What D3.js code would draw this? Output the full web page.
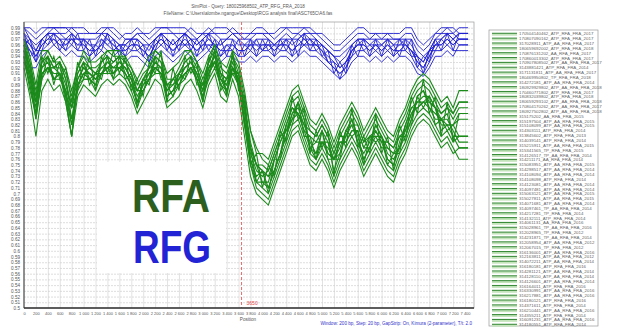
<!DOCTYPE html>
<html><head><meta charset="utf-8">
<script src="https://cdn.jsdelivr.net/npm/d3@7/dist/d3.min.js"></script>
<style>
html,body{margin:0;padding:0;background:#fff;}
svg{display:block;font-family:"Liberation Sans",Arial,sans-serif;}
</style></head>
<body>
<svg id="chart" width="624" height="327"></svg>
<script>
// ---------------- DATA ----------------
const titleLines = ["SimPlot - Query: 180025968502_ATP_RFG_FRA_2018",
  "FileName: C:\\Users\\alombe.ngangue\\Desktop\\RCG analysis final\\ASC765C\\A6.fas"];
const footNote = "Window: 200 bp, Step: 20 bp, GapStrip: On, Kimura (2-parameter), T/t: 2.0";
const xLabel = "Position";
const breakpoint = 3650;
const endPos = 7450;
const xTicks = [0,200,400,600,800,1000,1200,1400,1600,1800,2000,2200,2400,2600,2800,3000,3200,3400,3600,3800,4000,4200,4400,4600,4800,5000,5200,5400,5600,5800,6000,6200,6400,6600,6800,7000,7200,7400];
const yTicks = [0.5,0.51,0.52,0.53,0.54,0.55,0.56,0.57,0.58,0.59,0.6,0.61,0.62,0.63,0.64,0.65,0.66,0.67,0.68,0.69,0.7,0.71,0.72,0.73,0.74,0.75,0.76,0.77,0.78,0.79,0.8,0.81,0.82,0.83,0.84,0.85,0.86,0.87,0.88,0.89,0.9,0.91,0.92,0.93,0.94,0.95,0.96,0.97,0.98,0.99];
const positions = [0,100,200,300,400,500,600,700,800,900,1000,1100,1200,1300,1400,1500,1600,1700,1800,1900,2000,2100,2200,2300,2400,2500,2600,2700,2800,2900,3000,3100,3200,3300,3400,3500,3600,3700,3800,3900,4000,4100,4200,4300,4400,4500,4600,4700,4800,4900,5000,5100,5200,5300,5400,5500,5600,5700,5800,5900,6000,6100,6200,6300,6400,6500,6600,6700,6800,6900,7000,7100,7200,7300];

// similarity (%) of the query vs RFG sequences (blue)
const rfgSeries = [
 [99,98,97,98,99,99,98,98,99,98, 98,98,98,99,99,98,97,98,98,99, 98,97,98,99,99,98,97,98,99,98, 98,99,98,98,98,99,98,98,98,99, 99,98,97,98,99,98,98,99,99,98, 97,96,95,95,96,97,98,98,97,98, 98,98,97,97,98,98,96,95,96,98, 99,99,98,99],
 [95,92,92,94,95,96,95,94,95,94, 94,93,94,95,94,93,94,93,94,94, 93,92,94,95,94,93,94,95,94,93, 94,95,94,93,94,94,93,93,94,93, 94,94,93,94,94,93,94,95,94,94, 93,92,91,90,91,93,94,94,93,94, 93,94,93,94,94,93,91,90.5,92,94, 94,95,94,96],
 [97,96,95,97,98,98,97,96,97,97, 96,95,96,97,96,95,96,95,96,96, 95,94,96,97,96,95,96,97,96,95, 96,97,96,95,96,96,95,95,96,95, 96,96,95,96,96,95,96,97,96,96, 95,94,93,92,93,95,96,96,95,96, 95,96,95,96,96,95,93,92,94,96, 96,97,96,97],
 [98,96,94,96,97,98,98,97,97,96, 97,96,95,96,98,97,96,96,97,97, 96,95,97,98,97,96,97,98,97,96, 97,98,97,96,97,97,96,96,97,96, 95,96,96,97,97,96,97,98,97,97, 96,95,94,93,94,96,97,97,96,97, 96,97,96,97,97,96,94,93,95,97, 97,98,97,98],
 [96,95,93,95,96,97,96,95,96,95, 95,94,95,96,95,94,95,94,95,95, 94,93,95,96,95,94,95,96,95,94, 95,96,95,94,95,95,94,94,95,94, 95,95,94,95,95,94,95,96,95,95, 94,93,92,91,92,94,95,95,94,95, 94,95,94,95,95,94,92,91,93,95, 95,96,95,95],
 [98,97,96,97,98,99,99,99,98,97, 97,97,97,98,98,97,96,96,97,97, 96,96,97,98,98,98,98,98,97,96, 97,98,98,97,97,98,98,97,97,98, 98,97,96,97,98,97,97,98,98,97, 96,95,94,94,95,96,97,97,97,97, 97,97,96,96,97,97,95,94,95,97, 98,98,97,98],
 [97,95,94,96,97,97,96,96,97,96, 96,95,95,96,97,96,95,95,96,96, 95,94,96,97,96,95,96,96,96,95, 96,96,96,95,95,96,95,95,96,96, 96,96,95,96,96,95,96,96,96,96, 95,93,92,91,92,95,96,96,95,96, 95,96,95,95,96,95,93,92,94,96, 96,97,96,97],
 [99,97,95,97,98,98,97,97,98,97, 97,96,96,98,97,96,95,97,97,98, 97,96,97,98,97,96,97,98,97,97, 98,97,96,96,97,98,97,96,96,97, 97,97,96,96,97,97,98,97,97,96, 96,95,94,92,93,95,96,97,96,96, 96,97,97,97,96,95,94,93,95,96, 97,98,98,97],
 [96,97,93,97,96,98,95,97,96,98, 95,97,94,97,96,97,94,96,95,97, 94,96,95,98,95,97,95,98,95,97, 95,98,95,97,94,97,94,96,95,97, 95,97,94,97,95,97,94,98,95,97, 94,95,91,93,91,96,94,97,94,97, 94,97,94,97,95,97,92,94,93,97, 95,98,95,98],
 [98,94,95,95,98,96,97,95,98,95, 97,94,96,95,98,95,96,94,97,95, 96,93,97,96,97,94,97,96,97,94, 97,95,97,94,96,95,97,94,97,94, 97,95,96,95,97,94,97,96,97,95, 96,93,93,90,93,94,97,95,96,95, 96,95,96,94,97,94,94,91,95,95, 97,96,97,96],
 [99,99,98,99,99,99,99,99,99,99, 99,98,98,98,99,99,98,97,97,98, 98,98,99,99,99,99,99,99,98,97, 98,98,99,99,99,98,97,97,98,98, 98,98,98,99,99,99,99,99,98,98, 98,97,96,96,97,98,99,99,98,98, 97,98,98,98,99,99,97,96,97,98, 98,99,99,98]
];

// similarity (%) of the query vs RFA sequences (green)
const rfaSeries = [
 [97,94,89,95,95,93,94,92,88,92, 95,93,93,94,95,95,95,93,92,90, 92,94,95,94,91,92,93,95,95,93, 91,94,96,93,92,95,93,88,81,77, 77,76,79,82,85,88,89,86,83,82, 84,82,79,82,84,86,84,81,83,85, 83,81,80,83,85,88,90,91,90,88, 86,87,85,88],
 [92,87,80,88,90,88,89,86,80,87, 89,88,87,89,90,89,90,89,87,84, 86,88,90,89,85,86,87,89,90,88, 85,89,91,87,86,90,87,80,73,70, 69,68,71,74,77,80,81,78,75,74, 76,74,71,74,76,78,76,73,75,77, 75,73,72,75,77,80,82,83,82,80, 78,79,77,78],
 [96,92,87,93,94,90,91,88,86,91, 93,90,89,93,94,91,92,93,91,88, 88,90,94,93,87,88,91,93,94,90, 87,91,95,91,88,92,91,86,79,75, 72,71,74,77,80,83,86,83,78,77, 81,79,74,77,81,83,79,76,78,82, 80,76,75,78,82,85,85,86,87,85, 81,82,82,84],
 [94,89,83,91,92,92,91,87,80,89, 91,92,91,91,92,93,94,91,89,86, 90,92,92,91,89,90,89,91,92,92, 89,93,93,89,90,94,89,83,76,73, 74,73,76,79,82,85,84,81,80,79, 79,77,76,79,79,81,81,78,80,80, 78,78,77,80,80,83,87,88,85,83, 83,84,80,80],
 [95,91,86,91,92,92,93,90,83,89, 91,90,91,92,92,92,92,91,89,88, 90,90,92,91,88,90,90,91,92,90, 89,91,93,91,90,92,90,85,78,75, 74,73,74,77,82,85,84,81,78,79, 81,77,76,79,79,81,81,78,78,80, 80,78,77,78,80,83,87,88,86,85, 83,82,82,83],
 [96,92,86,93,94,92,93,90,85,91, 93,92,91,93,94,93,94,93,91,88, 90,92,94,93,89,90,91,93,94,92, 89,93,95,91,90,94,91,85,78,75, 75,74,77,80,83,86,87,84,81,80, 82,80,77,80,82,84,82,79,81,83, 81,79,78,81,83,86,88,89,88,86, 84,85,83,85],
 [93,89,84,90,92,90,90,88,82,88, 90,90,89,91,91,91,92,91,89,86, 88,90,91,91,87,88,89,90,92,90, 87,90,92,89,88,91,89,82,75,72, 71,70,73,76,79,82,83,80,77,76, 78,76,73,76,78,80,78,75,77,79, 77,75,74,77,79,82,84,85,84,82, 80,81,79,80],
 [94,90,86,92,93,90,91,86,80,90, 92,91,90,91,93,92,92,92,90,86, 89,90,93,92,87,88,90,92,93,91, 88,92,94,90,88,92,89,83,76,72, 72,72,76,79,81,83,84,82,79,77, 79,78,76,77,80,83,80,76,78,81, 79,76,75,79,82,85,86,86,85,84, 83,83,81,79],
 [96,91,85,92,94,92,92,89,85,90, 92,91,90,92,93,92,93,92,90,87, 89,91,93,92,88,89,90,92,93,91, 88,92,94,90,89,93,90,84,77,74, 73,74,77,80,81,84,85,82,81,80, 82,80,77,80,80,82,82,79,80,81, 79,79,78,80,81,84,85,86,86,85, 84,85,84,86],
 [95,90,84,91,92,91,91,88,83,89, 91,91,90,91,92,91,93,92,90,88, 90,91,92,92,89,89,91,92,93,91, 88,92,93,90,89,92,90,85,78,75, 74,71,74,77,80,84,86,83,78,76, 79,79,76,78,81,82,79,77,79,82, 80,77,76,78,81,84,86,87,87,85, 82,82,80,78],
 [96,93,87,94,91,94,90,92,86,93, 90,94,88,94,91,95,91,94,88,90, 87,93,91,95,86,92,88,94,91,93, 86,94,92,93,87,95,88,87,75,77, 71,75,73,81,79,87,83,85,77,81, 78,81,73,81,78,85,78,80,77,84, 77,80,74,82,79,87,84,90,84,87, 80,86,79,84],
 [93,91,83,90,94,89,93,87,85,88, 93,89,91,90,94,90,94,90,91,85, 90,89,94,90,89,87,91,90,94,89, 89,90,95,88,90,91,91,82,78,72, 74,70,76,76,82,82,86,80,80,76, 81,76,76,76,81,80,81,75,80,79, 80,75,77,77,82,82,87,85,87,82, 83,81,82,80],
 [97,93,88,93,95,93,93,91,87,92, 94,92,92,93,95,94,94,94,92,89, 91,92,95,94,90,90,92,94,95,93, 90,93,96,92,91,94,92,87,81,78, 76,75,78,81,84,87,88,85,82,81, 83,81,78,81,83,85,83,80,82,84, 82,80,79,82,84,87,89,90,89,87, 85,86,84,86],
 [94,88,84,91,92,90,91,87,82,89, 90,90,88,91,92,90,91,90,88,85, 88,90,92,91,86,87,89,91,92,90, 86,91,93,89,87,92,89,82,75,71, 70,69,72,75,78,81,82,79,76,75, 77,75,72,75,77,79,77,74,76,78, 76,74,73,76,78,81,83,84,83,81, 79,80,78,76]
];

const legendNames = [
 "170504140462_ATP_RFA_FRA_2017","170807090162_ATP_RFA_FRA_2017","317028911_ATP_AA_RFA_FRA_2017",
 "180659692002_ATP_RFA_FRA_2018","170876131202_AA_RFA_FRA_2017","170860013302_ATP_RFA_FRA_2017",
 "170907808502_ATP_AA_RFA_FRA_2017","3143881421_ATP_RFA_FRA_2014","3171131811_ATP_AA_RFA_FRA_2017",
 "180469950802_TP_RFA_FRA_2018","314272181_ATP_AA_RFA_FRA_2014","180929929802_ATP_AA_RFA_FRA_2018",
 "170460771802_ATP_RFA_FRA_2017","180832039802_ATP_RFA_FRA_2018","180659293102_ATP_AA_RFA_FRA_2018",
 "170804170262_ATP_AA_RFA_FRA_2017","180927502802_ATP_AA_RFA_FRA_2018","315175202_AA_RFA_FRA_2015",
 "315197504_ATP_AA_RFA_FRA_2015","315108099_ATP_AA_RFA_FRA_2015","314303111_ATP_RFA_FRA_2014",
 "313845602_ATP_RFA_FRA_2013","314039141_ATP_RFA_FRA_2014","315215911_ATP_AA_RFA_FRA_2015",
 "315341565_TP_RFA_FRA_2015","314126517_TP_AA_RFA_FRA_2014","314211171_AA_RFA_FRA_2014",
 "315083951_ATP_AA_RFA_FRA_2015","314298517_ATP_AA_RFA_FRA_2014","314108094_ATP_AA_RFA_FRA_2014",
 "314108098_ATP_RFA_FRA_2014","314123081_ATP_AA_RFA_FRA_2014","314097481_ATP_AA_RFA_FRA_2014",
 "315063121_ATP_AA_RFA_FRA_2015","315027811_ATP_AA_RFA_FRA_2015","314071681_ATP_AA_RFA_FRA_2014",
 "314097461_TP_AA_RFA_FRA_2014","314217281_TP_RFA_FRA_2014","314132111_ATP_RFA_FRA_2014",
 "314061131_AA_RFA_FRA_2016","315028961_TP_AA_RFA_FRA_2016","312028965_TP_RFA_FRA_2012",
 "314231871_TP_AA_RFA_FRA_2014","312058954_ATP_AA_RFA_FRA_2012","312067015_TP_RFA_FRA_2012",
 "316136001_ATP_AA_RFA_FRA_2016","312163811_ATP_AA_RFA_FRA_2012","314072211_ATP_AA_RFA_FRA_2014",
 "316180181_ATP_RFA_FRA_2016","314281121_ATP_AA_RFA_FRA_2014","314128110_ATP_AA_RFA_FRA_2014",
 "314126601_ATP_AA_RFA_FRA_2014","316164011_ATP_RFA_FRA_2016","316330991_ATP_AA_RFA_FRA_2016",
 "316217881_ATP_AA_RFA_FRA_2016","316180121_ATP_RFA_FRA_2016","314371611_ATP_RFA_FRA_2014",
 "316210441_ATP_AA_RFA_FRA_2016","314355211_ATP_RFA_FRA_2014","316091231_ATP_AA_RFA_FRA_2016",
 "314180551_ATP_RFA_FRA_2014"
];
const groupLabels = ["RFA","RFG"];

// ---------------- DRAW ----------------
const svg = d3.select("#chart");
const L = 24, R = 474, T = 22, B = 308;
const x = d3.scaleLinear().domain([0, 7550]).range([L, R]);
const y = d3.scaleLinear().domain([0.5, 1.0]).range([B, T]);
const BLUE = "#1f1fcf", GREEN = "#1b8a1b";

// title
svg.selectAll("text.title").data(titleLines).join("text")
  .attr("class","title").attr("x",248).attr("y",(d,i)=>8+i*7)
  .attr("text-anchor","middle").attr("font-size",4.6).attr("fill","#555").text(d=>d);

// grid
const gx = svg.append("g").attr("transform",`translate(0,${B})`)
  .call(d3.axisBottom(x).tickValues(xTicks.slice(1)).tickSize(-(B-T)).tickFormat(""));
gx.select(".domain").remove();
gx.selectAll("line").attr("stroke","#d6d6d6").attr("stroke-width",0.7);
const gy = svg.append("g").attr("transform",`translate(${L},0)`)
  .call(d3.axisLeft(y).tickValues(yTicks.slice(1)).tickSize(-(R-L)).tickFormat(""));
gy.select(".domain").remove();
gy.selectAll("line").attr("stroke","#d0d0d0").attr("stroke-width",0.7).attr("stroke-dasharray","2,1");

// white panel behind group labels
svg.append("rect").attr("x",97).attr("y",162).attr("width",129).attr("height",111).attr("fill","#fff");

// lines
const line = d3.line().x(d=>x(d[0])).y(d=>y(d[1]/100));
function pts(s){ const p = positions.map((pos,i)=>[pos,s[i]]); p.push([endPos, s[s.length-1]]); return p; }
svg.append("g").selectAll("path").data(rfgSeries).join("path")
  .attr("d",s=>line(pts(s))).attr("fill","none").attr("stroke",BLUE).attr("stroke-width",0.9);
svg.append("g").selectAll("path").data(rfaSeries).join("path")
  .attr("d",s=>line(pts(s))).attr("fill","none").attr("stroke",GREEN).attr("stroke-width",1.1);

// breakpoint
svg.append("line").attr("x1",x(breakpoint)).attr("x2",x(breakpoint)).attr("y1",T).attr("y2",B)
  .attr("stroke","#e04848").attr("stroke-width",0.8).attr("stroke-dasharray","3,2");
svg.append("text").attr("x",x(breakpoint)+5).attr("y",305).attr("font-size",5).attr("fill","#e04848").text(breakpoint);

// frame
svg.append("rect").attr("x",L).attr("y",T).attr("width",R-L).attr("height",B-T).attr("fill","none").attr("stroke","#999").attr("stroke-width",0.7);
svg.append("line").attr("x1",L).attr("x2",L).attr("y1",T).attr("y2",B).attr("stroke","#444").attr("stroke-width",1);
svg.append("line").attr("x1",L).attr("x2",R).attr("y1",B).attr("y2",B).attr("stroke","#333").attr("stroke-width",1.5);

// axes labels
const fmt = d3.formatLocale({decimal:".",thousands:" ",grouping:[3],currency:["",""]}).format(",");
const ax = svg.append("g").attr("transform",`translate(0,${B})`)
  .call(d3.axisBottom(x).tickValues(xTicks).tickSize(0).tickPadding(4).tickFormat(fmt));
ax.select(".domain").remove();
ax.selectAll("text").attr("font-size",4).attr("fill","#555").attr("font-family","Liberation Sans, Arial, sans-serif");
const ay = svg.append("g").attr("transform",`translate(${L},0)`)
  .call(d3.axisLeft(y).tickValues(yTicks).tickSize(0).tickPadding(4).tickFormat(d=>String(+d.toFixed(2))));
ay.select(".domain").remove();
ay.selectAll("text").attr("font-size",4.6).attr("fill","#555").attr("font-family","Liberation Sans, Arial, sans-serif");
svg.append("text").attr("x",248).attr("y",321).attr("text-anchor","middle").attr("font-size",4.6).attr("fill","#555").text(xLabel);
svg.append("text").attr("x",472).attr("y",325).attr("text-anchor","end").attr("font-size",4.6).attr("fill","#3434c8").text(footNote);

// group labels
svg.append("text").attr("x",132).attr("y",212).attr("font-size",46).attr("font-weight","bold")
  .attr("textLength",78).attr("lengthAdjust","spacingAndGlyphs").attr("fill","#2c5e1e").text(groupLabels[0]);
svg.append("text").attr("x",133).attr("y",263).attr("font-size",46).attr("font-weight","bold")
  .attr("textLength",78).attr("lengthAdjust","spacingAndGlyphs").attr("fill","#2323d6").text(groupLabels[1]);

// legend
const lg = svg.append("g");
lg.append("rect").attr("x",489).attr("y",30).attr("width",109).attr("height",296).attr("fill","#fff").attr("stroke","#999").attr("stroke-width",0.7);
const ent = lg.selectAll("g.e").data(legendNames).join("g").attr("class","e")
  .attr("transform",(d,i)=>`translate(0,${33.3+i*4.85})`);
ent.append("rect").attr("x",492).attr("y",0.4).attr("width",25).attr("height",2).attr("fill","#c4e4bc");
ent.append("line").attr("x1",492).attr("x2",517).attr("y1",0).attr("y2",0).attr("stroke","#3a8c3a").attr("stroke-width",1.1);
ent.append("text").attr("x",519).attr("y",2).attr("font-size",4.4).attr("fill","#666").text(d=>d);
</script>
</body></html>
